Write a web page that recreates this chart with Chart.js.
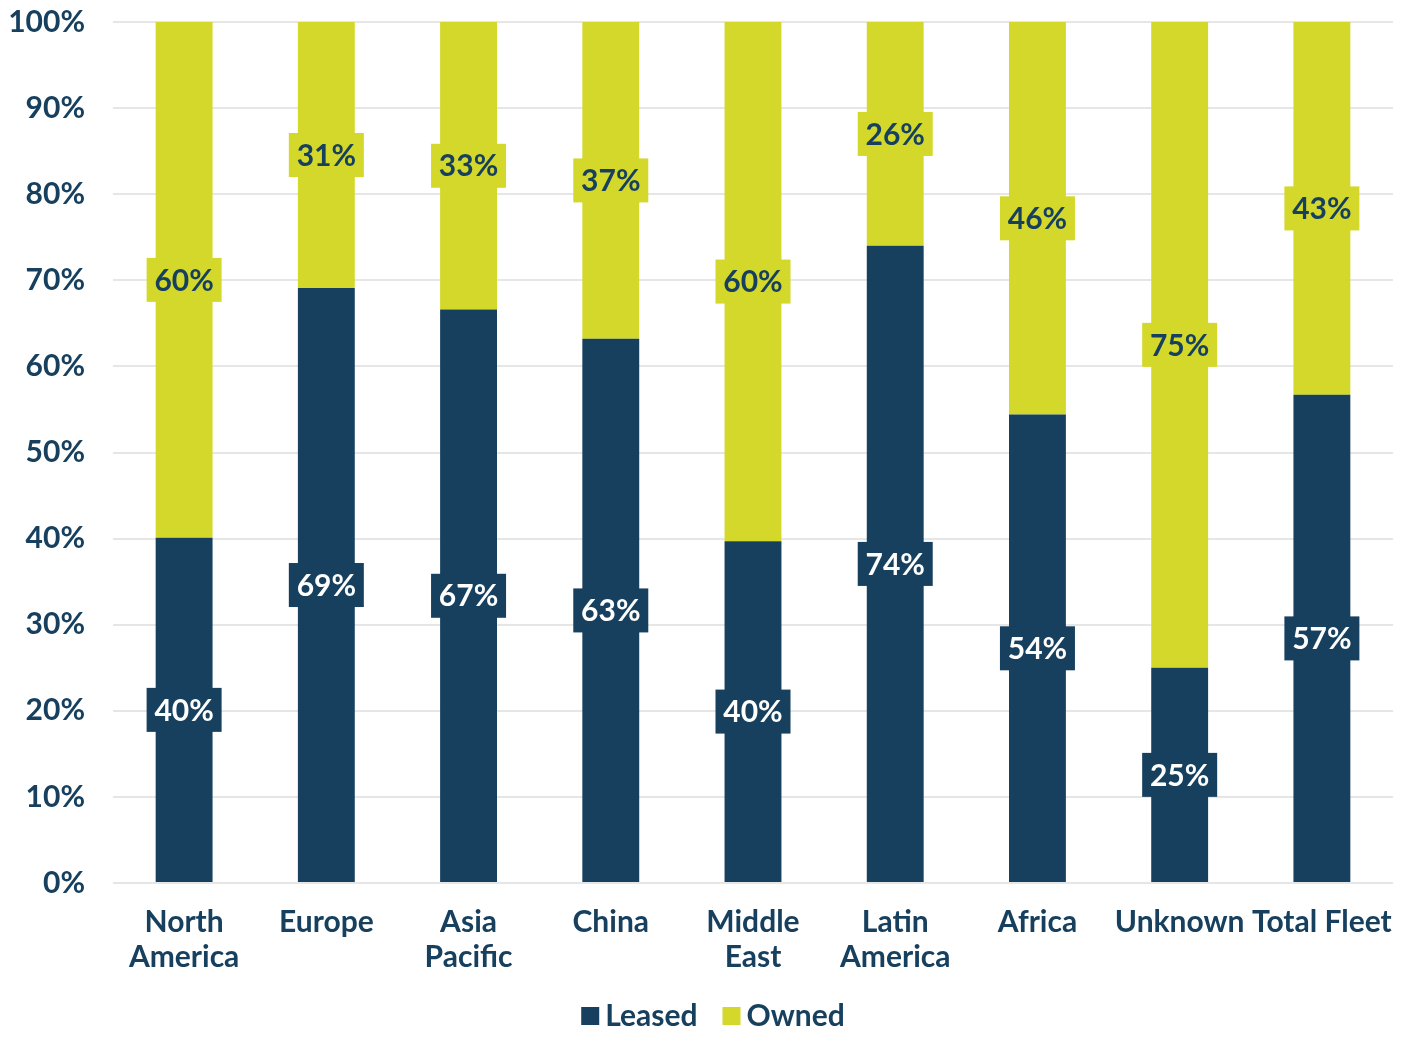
<!DOCTYPE html>
<html>
<head>
<meta charset="utf-8">
<script src="https://cdn.jsdelivr.net/npm/chart.js@4/dist/chart.umd.min.js"></script>
<style>
  html, body { margin: 0; padding: 0; background: #fff; }
  #wrap { width: 1410px; height: 1039px; }
</style>
</head>
<body>
<div id="wrap"><canvas id="myChart"></canvas></div>
<script>
const categories = [['North', 'America'], 'Europe', ['Asia', 'Pacific'], 'China', ['Middle', 'East'], ['Latin', 'America'], 'Africa', 'Unknown', 'Total Fleet'];
const leased = [40.1, 69.1, 66.6, 63.2, 39.7, 74.0, 54.4, 25.0, 56.7];
const owned = [59.9, 30.9, 33.4, 36.8, 60.3, 26.0, 45.6, 75.0, 43.3];
const yTicks = [0, 10, 20, 30, 40, 50, 60, 70, 80, 90, 100];

const NAVY = '#17405f';
const LIME = '#d4d82a';
const FONT = 'Lato, "Open Sans", sans-serif';

// percentage boxes centred on each segment
const boxLabels = {
    id: 'boxLabels',
    afterDatasetsDraw(chart) {
        const ctx = chart.ctx;
        ctx.save();
        ctx.font = 'bold 30px ' + FONT;
        ctx.textAlign = 'center';
        ctx.textBaseline = 'middle';
        chart.data.datasets.forEach((ds, i) => {
            const meta = chart.getDatasetMeta(i);
            meta.data.forEach((bar, j) => {
                const txt = Math.round(ds.data[j]) + '%';
                const cy = (bar.y + bar.base) / 2;
                const w = 75, h = 44;
                ctx.fillStyle = ds.backgroundColor;
                ctx.fillRect(bar.x - w / 2, cy - h / 2, w, h);
                ctx.fillStyle = i === 0 ? '#ffffff' : NAVY;
                ctx.fillText(txt, bar.x, cy + 1);
            });
        });
        ctx.restore();
    }
};

// compact legend under the axis (square, small gap to text)
const bottomLegend = {
    id: 'bottomLegend',
    afterDraw(chart) {
        const ctx = chart.ctx;
        const ds = chart.data.datasets;
        const box = 18, gap = 6, space = 25;
        ctx.save();
        ctx.font = 'bold 30px ' + FONT;
        ctx.textBaseline = 'middle';
        const widths = ds.map(d => box + gap + ctx.measureText(d.label).width);
        const total = widths.reduce((a, b) => a + b, 0) + space * (ds.length - 1);
        let x = chart.width / 2 + 8 - total / 2;
        const cy = 1016;
        ds.forEach((d, i) => {
            ctx.fillStyle = d.backgroundColor;
            ctx.fillRect(x, cy - box / 2, box, box);
            ctx.fillStyle = NAVY;
            ctx.fillText(d.label, x + box + gap, cy);
            x += widths[i] + space;
        });
        ctx.restore();
    }
};

new Chart(document.getElementById('myChart'), {
    type: 'bar',
    data: {
        labels: categories,
        datasets: [
            { label: 'Leased', data: leased, backgroundColor: NAVY, barPercentage: 0.4, categoryPercentage: 1 },
            { label: 'Owned', data: owned, backgroundColor: LIME, barPercentage: 0.4, categoryPercentage: 1 }
        ]
    },
    options: {
        responsive: true,
        maintainAspectRatio: false,
        animation: false,
        layout: { padding: { top: 22, right: 17, left: 0, bottom: 56 } },
        plugins: {
            legend: { display: false },
            tooltip: { enabled: false }
        },
        scales: {
            x: {
                stacked: true,
                grid: { display: false },
                border: { display: false },
                ticks: {
                    color: NAVY,
                    font: { family: FONT, size: 30, weight: 'bold', lineHeight: 1.17 },
                    maxRotation: 0,
                    autoSkip: false,
                    padding: 14
                },
                afterFit(scale) { scale.height = 100; }
            },
            y: {
                stacked: true,
                min: 0,
                max: 100,
                afterBuildTicks(scale) { scale.ticks = yTicks.map(v => ({ value: v })); },
                grid: { color: '#e6e6e6', lineWidth: 2, drawTicks: false },
                border: { display: false },
                ticks: {
                    color: NAVY,
                    font: { family: FONT, size: 30, weight: 'bold' },
                    padding: 28,
                    callback: v => v + '%'
                },
                afterFit(scale) {
                    scale.width = 113;
                    scale.paddingTop = 0;
                    scale.paddingBottom = 0;
                }
            }
        }
    },
    plugins: [boxLabels, bottomLegend]
});
</script>
</body>
</html>
